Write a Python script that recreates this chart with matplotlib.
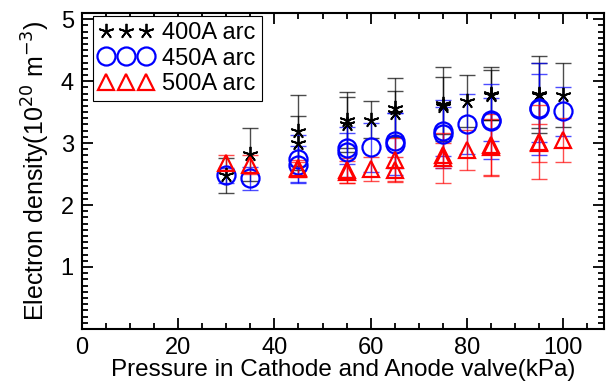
import matplotlib
matplotlib.use("Agg")
import matplotlib.pyplot as plt
from matplotlib.ticker import MultipleLocator

plt.rcParams['font.family'] = ['Liberation Sans', 'DejaVu Sans']

# pressure (kPa) - repeated values are repeat measurements
p400 = [30, 35, 45, 45, 55, 55, 60, 65, 65, 75, 75, 80, 85, 85, 95, 95, 100]
n400 = [2.48, 2.82, 3.20, 3.00, 3.37, 3.30, 3.38, 3.57, 3.48, 3.63, 3.60, 3.68, 3.80, 3.78, 3.79, 3.77, 3.78]
e400 = [0.28, 0.43, 0.57, 0.44, 0.45, 0.45, 0.30, 0.48, 0.36, 0.60, 0.46, 0.42, 0.42, 0.40, 0.62, 0.52, 0.52]

p450 = [30, 35, 45, 45, 55, 55, 60, 65, 65, 75, 75, 80, 85, 85, 95, 95, 100]
n450 = [2.48, 2.43, 2.75, 2.65, 2.92, 2.86, 2.93, 3.04, 2.99, 3.15, 3.19, 3.31, 3.38, 3.35, 3.57, 3.55, 3.51]
e450 = [0.12, 0.18, 0.38, 0.30, 0.25, 0.40, 0.39, 0.45, 0.50, 0.55, 0.40, 0.48, 0.35, 0.60, 0.55, 0.75, 0.40]

p500 = [30, 35, 45, 45, 55, 55, 60, 65, 65, 75, 75, 80, 85, 85, 95, 95, 100]
n500 = [2.68, 2.65, 2.60, 2.58, 2.56, 2.53, 2.58, 2.73, 2.57, 2.76, 2.80, 2.89, 2.94, 2.97, 3.02, 3.00, 3.05]
e500 = [0.12, 0.15, 0.13, 0.12, 0.20, 0.18, 0.20, 0.35, 0.20, 0.40, 0.20, 0.32, 0.45, 0.50, 0.60, 0.30, 0.36]

fig = plt.figure(figsize=(6.13, 3.82), dpi=100)
ax = fig.add_axes([0.134, 0.139, 0.851, 0.827])

# error bars first, markers on top
for p, n, e, c in [(p400, n400, e400, 'black'), (p450, n450, e450, 'blue'), (p500, n500, e500, 'red')]:
    ax.errorbar(p, n, yerr=e, fmt='none', ecolor=c, elinewidth=1.0, capsize=6,
                capthick=1.0, alpha=0.7)

ax.plot(p400, n400, ls='none', marker=(5, 2, 0), ms=11, mew=1.3, color='black', label='400A arc')
ax.plot(p450, n450, ls='none', marker='o', ms=13, mew=1.6, mfc='none', color='blue', label='450A arc')
ax.plot(p500, n500, ls='none', marker='^', ms=12, mew=1.6, mfc='none', color='red', label='500A arc')

ax.set_xlim(0, 108.5)
ax.set_ylim(0, 5.1)
ax.xaxis.set_major_locator(MultipleLocator(20))
ax.xaxis.set_minor_locator(MultipleLocator(5))
ax.yaxis.set_minor_locator(MultipleLocator(0.1))
ax.set_yticks([1, 2, 3, 4, 5])
ax.tick_params(which='both', direction='in', top=True, right=True, labelsize=17, width=1.3)
ax.tick_params(which='major', length=8, pad=6)
ax.tick_params(which='minor', length=4)
for s in ax.spines.values():
    s.set_linewidth(1.5)

ax.set_xlabel('Pressure in Cathode and Anode valve(kPa)', fontsize=17.5, labelpad=0)
ax.set_ylabel('Electron density(10$^{20}$ m$^{-3}$)', fontsize=18, labelpad=6)

leg = ax.legend(loc='upper left', numpoints=3, fontsize=17, fancybox=False,
                edgecolor='black', framealpha=1, borderaxespad=0.0,
                bbox_to_anchor=(0.02, 0.99),
                handlelength=2.3, handletextpad=0.4, borderpad=0.25, labelspacing=0.15)
leg.get_frame().set_linewidth(0.8)

fig.savefig('out.png', dpi=100)
